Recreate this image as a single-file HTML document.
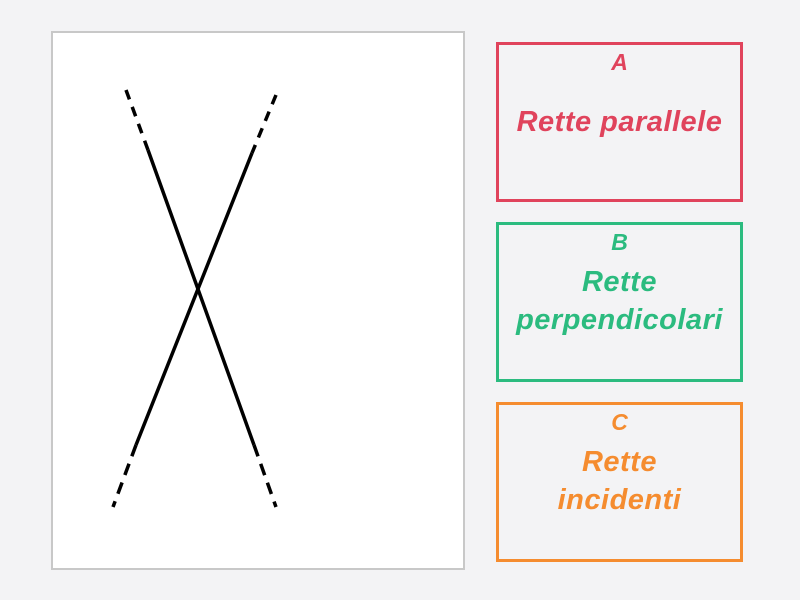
<!DOCTYPE html>
<html><head><style>
body{margin:0;width:800px;height:600px;background:#f3f3f5;position:relative;overflow:hidden;font-family:"Liberation Sans",sans-serif;}
.panel{position:absolute;left:51px;top:31px;width:410px;height:535px;background:#fff;border:2px solid #c8c8c8;}
.box{position:absolute;left:496px;width:241px;height:154px;border:3px solid;text-align:center;font-style:italic;font-weight:bold;box-sizing:content-box;}
.box .l{position:absolute;left:0;right:0;top:4px;font-size:23px;}
.box .t{position:absolute;left:0;right:0;font-size:29px;line-height:38px;letter-spacing:0.5px;}
svg{position:absolute;left:0;top:0}
</style></head><body>
<div class="panel"></div>
<svg width="800" height="600">
<g stroke="#000" stroke-width="3.5">
<line x1="148" y1="150" x2="254" y2="445"/>
<line x1="126" y1="90" x2="148" y2="150" stroke-dasharray="10,8"/>
<line x1="254" y1="445" x2="276" y2="507" stroke-dasharray="12,8"/>
<line x1="252" y1="153" x2="136" y2="445"/>
<line x1="276" y1="95" x2="252" y2="153" stroke-dasharray="10,8"/>
<line x1="136" y1="445" x2="113" y2="507" stroke-dasharray="12,8"/>
</g></svg>
<div class="box" style="top:42px;border-color:#e0435c;color:#e0435c"><div class="l">A</div><div class="t" style="top:58px">Rette parallele</div></div>
<div class="box" style="top:222px;border-color:#2bbb7f;color:#2bbb7f"><div class="l">B</div><div class="t" style="top:38px">Rette<br>perpendicolari</div></div>
<div class="box" style="top:402px;border-color:#f58c2f;color:#f58c2f"><div class="l">C</div><div class="t" style="top:38px">Rette<br>incidenti</div></div>
</body></html>
